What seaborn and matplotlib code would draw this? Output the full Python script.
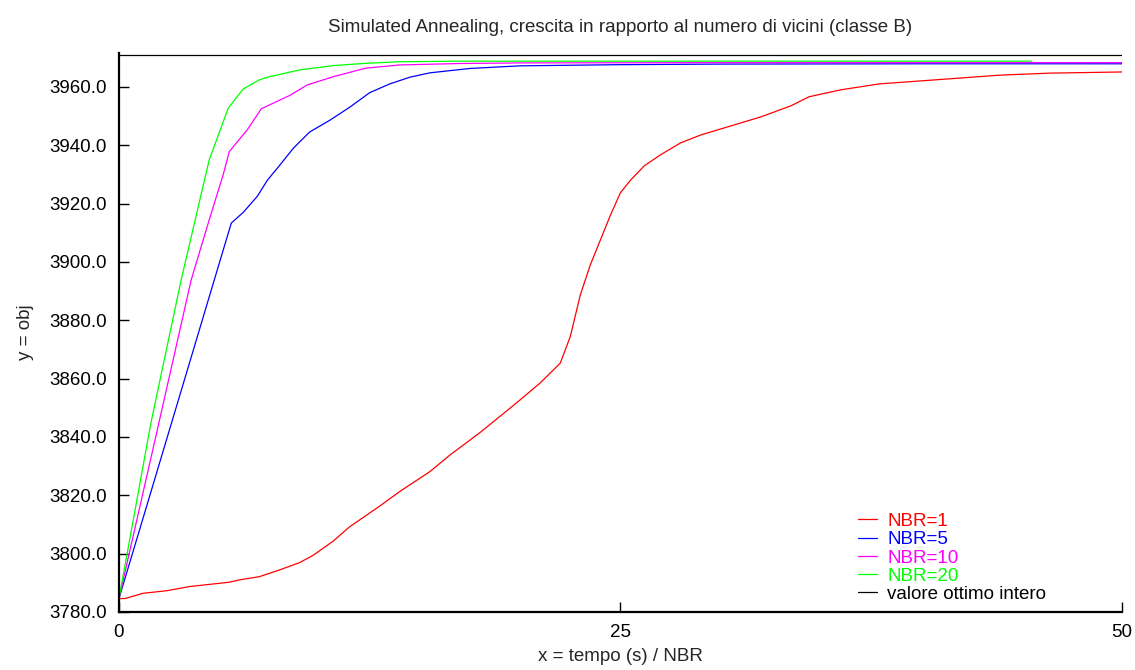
import matplotlib
matplotlib.use("Agg")
import matplotlib.pyplot as plt
import seaborn as sns
import pandas as pd

# NBR = 1
x_nbr1 = [0.0, 0.3, 1.2, 2.4, 3.5, 5.5, 6.0, 7.0, 8.0, 9.0, 9.7, 10.7, 11.5, 13.0, 14.0,
          15.5, 16.5, 18.0, 19.7, 21.0, 22.0, 22.5, 23.0, 23.5, 24.0, 24.5, 25.0, 25.5,
          26.2, 27.0, 28.0, 29.0, 30.5, 32.0, 33.5, 34.4, 36.0, 37.9, 39.9, 41.9, 43.9,
          46.4, 50.0]
y_nbr1 = [3784.6, 3784.6, 3786.4, 3787.3, 3788.7, 3790.2, 3791.0, 3792.1, 3794.4, 3796.9,
          3799.5, 3804.4, 3809.2, 3816.3, 3821.3, 3828.1, 3833.8, 3841.5, 3851.0, 3858.5,
          3865.3, 3874.4, 3888.7, 3899.0, 3907.5, 3916.0, 3923.7, 3928.0, 3933.0, 3936.7,
          3940.8, 3943.5, 3946.6, 3949.7, 3953.5, 3956.6, 3959.0, 3961.0, 3962.0, 3963.0,
          3964.0, 3964.7, 3965.1]

# NBR = 5
x_nbr5 = [0.0, 1.5, 3.0, 4.5, 5.6, 6.2, 6.9, 7.4, 8.0, 8.7, 9.5, 10.5, 11.5, 12.5,
          13.5, 14.5, 15.5, 17.5, 20.0, 25.0, 30.0, 40.0, 50.0]
y_nbr5 = [3784.6, 3819.0, 3853.5, 3888.0, 3913.3, 3917.0, 3922.5, 3928.0, 3933.0,
          3939.0, 3944.5, 3948.5, 3953.0, 3958.0, 3961.0, 3963.3, 3964.8, 3966.3,
          3967.2, 3967.6, 3967.8, 3967.9, 3967.9]

# NBR = 10
x_nbr10 = [0.0, 1.8, 3.6, 4.5, 5.2, 5.5, 6.4, 7.1, 8.5, 9.4, 10.7, 12.3, 14.0, 17.0,
           20.0, 30.0, 40.0, 50.0]
y_nbr10 = [3784.6, 3839.0, 3893.8, 3914.4, 3930.0, 3937.8, 3945.3, 3952.5, 3957.0,
           3960.7, 3963.5, 3966.4, 3967.5, 3968.0, 3968.2, 3968.3, 3968.3, 3968.3]

# NBR = 20
x_nbr20 = [0.0, 1.6, 3.1, 4.5, 5.45, 6.2, 7.0, 7.4, 9.0, 10.7, 12.4, 14.0, 17.0, 20.0,
           30.0, 40.0, 45.5]
y_nbr20 = [3784.6, 3845.0, 3893.8, 3935.0, 3952.7, 3959.3, 3962.4, 3963.3, 3965.8,
           3967.3, 3968.1, 3968.6, 3968.8, 3968.8, 3968.8, 3968.8, 3968.8]

# integer optimum
x_opt = [0.0, 50.0]
y_opt = [3971.0, 3971.0]

labels = ["NBR=1", "NBR=5", "NBR=10", "NBR=20", "valore ottimo intero"]
colors = ["#ff0000", "#0000ff", "#ff00ff", "#00ff00", "#000000"]
series = [(x_nbr1, y_nbr1), (x_nbr5, y_nbr5), (x_nbr10, y_nbr10),
          (x_nbr20, y_nbr20), (x_opt, y_opt)]

frames = []
for lab, (xs, ys) in zip(labels, series):
    frames.append(pd.DataFrame({"x": xs, "y": ys, "serie": lab}))
df = pd.concat(frames, ignore_index=True)

sns.set_style("ticks")
plt.rcParams["font.family"] = ["Liberation Sans", "DejaVu Sans"]

FS = 13.5

fig = plt.figure(figsize=(11.35, 6.70), dpi=100)
ax = fig.add_axes([0.1048, 0.0866, 0.8837, 0.8343])

sns.lineplot(data=df, x="x", y="y", hue="serie", hue_order=labels,
             palette=dict(zip(labels, colors)), estimator=None, sort=False,
             linewidth=0.9, ax=ax)

ax.set_xlim(0, 50)
ax.set_ylim(3780, 3971.6)
ax.set_xticks([0, 25, 50])
ax.set_xticklabels(["0", "25", "50"])
yt = [3780 + 20 * i for i in range(10)]
ax.set_yticks(yt)
ax.set_yticklabels([f"{v:.1f}" for v in yt])
ax.tick_params(direction="in", length=7, width=1, labelsize=FS, colors="black",
               pad=8.5)
for side in ("top", "right"):
    ax.spines[side].set_visible(False)
for side in ("left", "bottom"):
    ax.spines[side].set_linewidth(1.6)
    ax.spines[side].set_color("black")

ax.set_title("Simulated Annealing, crescita in rapporto al numero di vicini (classe B)",
             fontsize=FS, pad=15)
ax.set_xlabel("x = tempo (s) / NBR", fontsize=FS, labelpad=5)
ax.set_ylabel("y = obj", fontsize=FS, labelpad=11)

leg = ax.legend(loc="lower left", bbox_to_anchor=(0.7368, 0.016), frameon=False,
                fontsize=FS, handlelength=1.0, handletextpad=0.55,
                labelspacing=0.06, borderaxespad=0.0, borderpad=0.0)
for txt, c in zip(leg.get_texts(), colors):
    txt.set_color(c)
for h in leg.get_lines():
    h.set_linewidth(0.9)

fig.savefig("out.png", dpi=100)
